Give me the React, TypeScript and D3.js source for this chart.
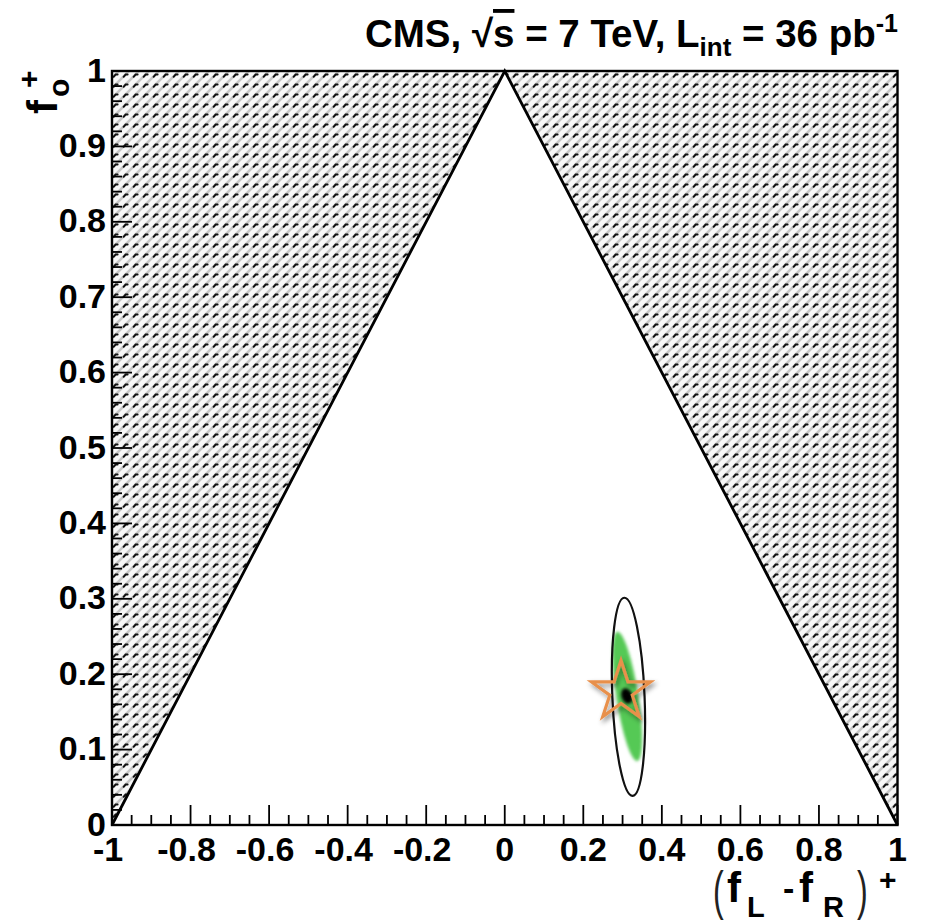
import React from "react";
import * as d3 from "d3";

const xDomain = [-1, 1];
const yDomain = [0, 1];
const xMajorTicks = [-1, -0.8, -0.6, -0.4, -0.2, 0, 0.2, 0.4, 0.6, 0.8, 1];
const xTickLabels = ["-1", "-0.8", "-0.6", "-0.4", "-0.2", "0", "0.2", "0.4", "0.6", "0.8", "1"];
const yMajorTicks = [0, 0.1, 0.2, 0.3, 0.4, 0.5, 0.6, 0.7, 0.8, 0.9, 1];
const yTickLabels = ["0", "0.1", "0.2", "0.3", "0.4", "0.5", "0.6", "0.7", "0.8", "0.9", "1"];
const xMinorStep = 0.05;
const yMinorStep = 0.02;

// physical boundary triangle
const triangle = [
  [-1, 0],
  [0, 1],
  [1, 0],
];
const leftExcluded = [
  [-1, 0],
  [-1, 1],
  [0, 1],
];
const rightExcluded = [
  [0, 1],
  [1, 1],
  [1, 0],
];

// fit results (data units)
const outerContour = { cx: 0.315, cy: 0.17, rx: 0.041, ry: 0.1315, angle: -2.4 };
const innerContour = { cx: 0.312, cy: 0.1705, rx: 0.028, ry: 0.0867, angle: -8.8 };
const bestFit = { x: 0.311, y: 0.171 };
const smPrediction = { x: 0.296, y: 0.177 };

const W = 925;
const H = 924;
const left = 112;
const right = 897.5;
const top = 71;
const bottom = 825;

const FONT = "'Liberation Sans', Arial, Helvetica, sans-serif";

export default function App() {
  const x = d3.scaleLinear().domain(xDomain).range([left, right]);
  const y = d3.scaleLinear().domain(yDomain).range([bottom, top]);
  const pxX = (v: number) => Math.abs(x(v) - x(0));
  const pxY = (v: number) => Math.abs(y(v) - y(0));

  const line = d3
    .line<number[]>()
    .x((d) => x(d[0]))
    .y((d) => y(d[1]));

  const xMinor = d3.range(xDomain[0], xDomain[1] + 1e-9, xMinorStep).filter(
    (v) => !xMajorTicks.some((m) => Math.abs(m - v) < 1e-6)
  );
  const yMinor = d3.range(yDomain[0], yDomain[1] + 1e-9, yMinorStep).filter(
    (v) => !yMajorTicks.some((m) => Math.abs(m - v) < 1e-6)
  );

  // star
  const R = 31;
  const r = R * 0.382;
  const sx = x(smPrediction.x);
  const sy = y(smPrediction.y);
  const starPts: [number, number][] = [];
  for (let i = 0; i < 10; i++) {
    const a = -Math.PI / 2 + (i * Math.PI) / 5;
    const rr = i % 2 === 0 ? R : r;
    starPts.push([sx + rr * Math.cos(a), sy + rr * Math.sin(a)]);
  }
  const starPath = d3.line()(starPts) + "Z";

  return (
    <svg width={W} height={H} style={{ display: "block", position: "absolute", left: 0, top: 0 }}>
      <defs>
        <pattern id="hatch" patternUnits="userSpaceOnUse" width={10} height={10}>
          <rect width={10} height={10} fill="#f7f7f7" />
          <path d="M-2,2 L2,-2 M0,10 L10,0 M8,12 L12,8" stroke="#c8c8c8" strokeWidth={2.5} />
          <path d="M3.6,6.8 L5.6,4.6 L7.6,4.6" stroke="#111" strokeWidth={2} fill="none" strokeLinecap="round" />
        </pattern>
        <filter id="blur1" x="-50%" y="-50%" width="200%" height="200%">
          <feGaussianBlur stdDeviation="1.6" />
        </filter>
        <filter id="blur2" x="-50%" y="-50%" width="200%" height="200%">
          <feGaussianBlur stdDeviation="1.6" />
        </filter>
        <filter id="shadow" x="-50%" y="-50%" width="200%" height="200%">
          <feDropShadow dx="2" dy="3" stdDeviation="2.5" floodColor="#000" floodOpacity="0.45" />
        </filter>
      </defs>

      <rect x={0} y={0} width={W} height={H} fill="#fff" />

      {/* excluded regions */}
      <path d={line(leftExcluded) + "Z"} fill="url(#hatch)" />
      <path d={line(rightExcluded) + "Z"} fill="url(#hatch)" />

      {/* triangle boundary */}
      <path d={line(triangle) || ""} fill="none" stroke="#000" strokeWidth={2.8} strokeLinejoin="miter" />

      {/* inner (green) contour */}
      <ellipse
        cx={x(innerContour.cx)}
        cy={y(innerContour.cy)}
        rx={pxX(innerContour.rx)}
        ry={pxY(innerContour.ry)}
        fill="#55c955"
        filter="url(#blur1)"
        transform={`rotate(${innerContour.angle} ${x(innerContour.cx)} ${y(innerContour.cy)})`}
      />
      {/* outer contour */}
      <ellipse
        cx={x(outerContour.cx)}
        cy={y(outerContour.cy)}
        rx={pxX(outerContour.rx)}
        ry={pxY(outerContour.ry)}
        fill="none"
        stroke="#111"
        strokeWidth={2.2}
        transform={`rotate(${outerContour.angle} ${x(outerContour.cx)} ${y(outerContour.cy)})`}
      />
      {/* best fit */}
      <ellipse
        cx={x(bestFit.x)}
        cy={y(bestFit.y)}
        rx={5.5}
        ry={8}
        fill="#000"
        filter="url(#blur2)"
        transform={`rotate(-20 ${x(bestFit.x)} ${y(bestFit.y)})`}
      />
      {/* SM prediction star */}
      <path d={starPath} fill="none" stroke="#e8904c" strokeWidth={3.2} strokeLinejoin="miter" filter="url(#shadow)" />

      {/* ticks */}
      {xMajorTicks.map((v) => (
        <line key={"xM" + v} x1={x(v)} x2={x(v)} y1={bottom} y2={bottom - 20} stroke="#000" strokeWidth={1.8} />
      ))}
      {xMinor.map((v) => (
        <line key={"xm" + v} x1={x(v)} x2={x(v)} y1={bottom} y2={bottom - 10} stroke="#000" strokeWidth={1.8} />
      ))}
      {yMajorTicks.map((v) => (
        <line key={"yM" + v} x1={left} x2={left + 20} y1={y(v)} y2={y(v)} stroke="#000" strokeWidth={1.8} />
      ))}
      {yMinor.map((v) => (
        <line key={"ym" + v} x1={left} x2={left + 10} y1={y(v)} y2={y(v)} stroke="#000" strokeWidth={1.8} />
      ))}

      {/* frame */}
      <rect x={left} y={top} width={right - left} height={bottom - top} fill="none" stroke="#000" strokeWidth={2.4} />

      {/* tick labels */}
      {xMajorTicks.map((v, i) => (
        <text
          key={"xl" + v}
          x={x(v) - (xTickLabels[i].startsWith("-") ? 4 : 0)}
          y={861}
          textAnchor="middle"
          fontFamily={FONT}
          fontWeight="bold"
          fontSize={34}
          fill="#000"
        >
          {xTickLabels[i]}
        </text>
      ))}
      {yMajorTicks.map((v, i) => (
        <text
          key={"yl" + v}
          x={106}
          y={y(v) + 10.5}
          textAnchor="end"
          fontFamily={FONT}
          fontWeight="bold"
          fontSize={34}
          fill="#000"
        >
          {yTickLabels[i]}
        </text>
      ))}

      {/* title */}
      <text x={898} y={47} textAnchor="end" fontFamily={FONT} fontWeight="bold" fontSize={38.5} fill="#000">
        <tspan>CMS, √</tspan>
        <tspan style={{ textDecoration: "overline" }}>s</tspan>
        <tspan> = 7 TeV, L</tspan>
        <tspan fontSize={26} dy={9}>int</tspan>
        <tspan dy={-9}> = 36 pb</tspan>
        <tspan fontSize={25} dy={-15}>-1</tspan>
      </text>

      {/* x axis title */}
      <g fontFamily={FONT} fill="#000">
        <text transform="translate(713,909) scale(0.7,1.15)" fontSize={46} fontWeight="normal" fill="#222">(</text>
        <text x={727} y={902} fontSize={42} fontWeight="bold">f</text>
        <text x={747} y={917} fontSize={29} fontWeight="bold">L</text>
        <text x={783} y={900} fontSize={34} fontWeight="bold">-</text>
        <text x={799} y={902} fontSize={42} fontWeight="bold">f</text>
        <text x={823} y={917} fontSize={29} fontWeight="bold">R</text>
        <text transform="translate(857,909) scale(0.7,1.15)" fontSize={46} fontWeight="normal" fill="#222">)</text>
        <text x={879} y={890} fontSize={30} fontWeight="bold">+</text>
      </g>

      {/* y axis title */}
      <g fontFamily={FONT} fill="#000" transform="translate(57,114) rotate(-90)">
        <text x={0} y={0} fontSize={42} fontWeight="bold">f</text>
        <text x={17} y={12} fontSize={30} fontWeight="bold">o</text>
        <text x={26} y={-18} fontSize={30} fontWeight="bold">+</text>
      </g>
    </svg>
  );
}
